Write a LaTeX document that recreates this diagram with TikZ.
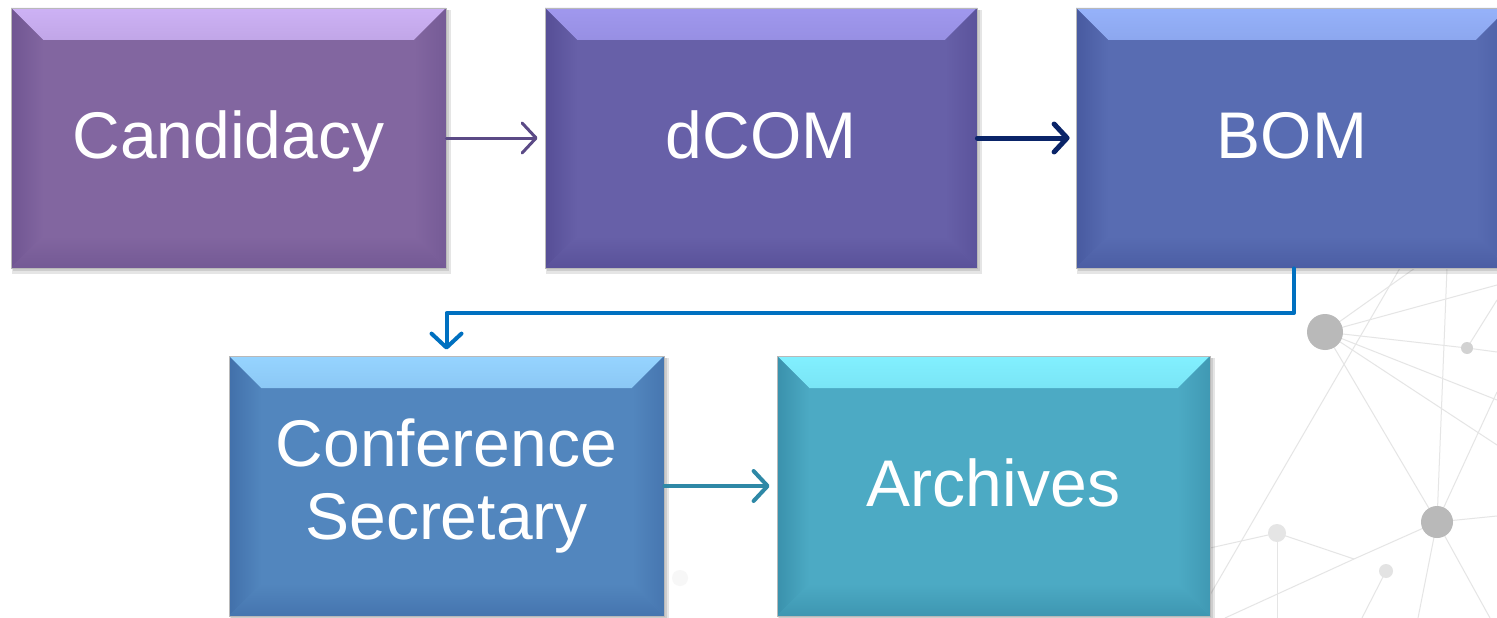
\documentclass[tikz,border=0pt]{standalone}
\usepackage{fontspec}
\setmainfont{Liberation Sans}
\usetikzlibrary{arrows.meta,backgrounds}
\definecolor{candC}{RGB}{130,102,160}
\definecolor{candL}{RGB}{205,178,245}
\definecolor{candD}{RGB}{112,86,146}
\definecolor{dcomC}{RGB}{103,96,168}
\definecolor{dcomL}{RGB}{160,152,238}
\definecolor{dcomD}{RGB}{86,78,150}
\definecolor{bomC}{RGB}{88,108,178}
\definecolor{bomL}{RGB}{150,178,250}
\definecolor{bomD}{RGB}{72,90,160}
\definecolor{confC}{RGB}{82,134,190}
\definecolor{confL}{RGB}{150,212,255}
\definecolor{confD}{RGB}{66,112,170}
\definecolor{archC}{RGB}{76,170,196}
\definecolor{archL}{RGB}{130,240,255}
\definecolor{archD}{RGB}{58,145,172}
\definecolor{arrA}{RGB}{91,74,134}
\definecolor{arrB}{RGB}{10,36,104}
\definecolor{arrC}{RGB}{0,112,192}
\definecolor{arrD}{RGB}{46,136,166}
\tikzset{
  bevelbox/.style n args={3}{
    draw=gray!55, line width=0.8pt, fill=#1,
    minimum width=435pt, minimum height=260pt, inner sep=0pt,
    text=white, font=\fontsize{66}{73}\selectfont, align=center,
    path picture={
      \shade[top color=#2, bottom color=#1, middle color=#2!35!#1]
        (path picture bounding box.north west) -- (path picture bounding box.north east)
        -- ([shift={(-32pt,-32pt)}]path picture bounding box.north east)
        -- ([shift={(32pt,-32pt)}]path picture bounding box.north west) -- cycle;
      \shade[left color=#3, right color=#1]
        (path picture bounding box.north west) -- ([shift={(32pt,-32pt)}]path picture bounding box.north west)
        -- ([shift={(32pt,32pt)}]path picture bounding box.south west)
        -- (path picture bounding box.south west) -- cycle;
      \shade[right color=#3!70!#1, left color=#1]
        (path picture bounding box.north east) -- ([shift={(-32pt,-32pt)}]path picture bounding box.north east)
        -- ([shift={(-32pt,32pt)}]path picture bounding box.south east)
        -- (path picture bounding box.south east) -- cycle;
      \shade[bottom color=#3!80!#1, top color=#1]
        (path picture bounding box.south west) -- ([shift={(32pt,32pt)}]path picture bounding box.south west)
        -- ([shift={(-32pt,32pt)}]path picture bounding box.south east)
        -- (path picture bounding box.south east) -- cycle;
    }
  },
  onetext/.style={text height=47pt, text depth=7pt},
  conn/.style={line cap=round, line join=round},
  netline/.style={draw=gray!20, line width=1pt},
  shadowbox/.style={fill=black, opacity=0.10}
}
\begin{document}
\begin{tikzpicture}[x=1pt,y=-1pt]
\useasboundingbox (0,0) rectangle (1497,618);

\node[bevelbox={candC}{candL}{candD}, onetext] (cand) at (228.5,138) {Candidacy};
\node[bevelbox={dcomC}{dcomL}{dcomD}, onetext, minimum width=432pt] (dcom) at (761,138) {dCOM};
\node[bevelbox={bomC}{bomL}{bomD}, onetext, minimum width=432pt] (bom) at (1292,138) {BOM};
\node[bevelbox={confC}{confL}{confD}] (conf) at (446.5,486) {Conference\\Secretary};
\node[bevelbox={archC}{archL}{archD}, onetext, minimum width=433pt] (arch) at (993.5,486) {Archives};

\begin{scope}[on background layer]
  \fill[white] (0,0) rectangle (1497,618);
  % faint network
  \coordinate (nA) at (1325,332);
  \coordinate (nB) at (1467,348);
  \coordinate (nC) at (1437,522);
  \coordinate (nD) at (1277,533);
  \coordinate (nE) at (1386,571);
  \coordinate (nF) at (1354,559);
  \path[netline] (nA) -- (1497,285);
  \path[netline] (nA) -- (nB) -- (1497,352);
  \path[netline] (nA) -- (1497,400);
  \path[netline] (nA) -- (1497,445);
  \path[netline] (nA) -- (nC);
  \path[netline] (nA) -- (1415,268);
  \path[netline] (1400,268) -- (1210,595);
  \path[netline] (nC) -- (1447,268);
  \path[netline] (nC) -- (1497,392);
  \path[netline] (nC) -- (1497,516);
  \path[netline] (nC) -- (nF) -- (1225,618);
  \path[netline] (nC) -- (1418,618);
  \path[netline] (nC) -- (1490,618);
  \path[netline] (nD) -- (nF);
  \path[netline] (nD) -- (1210,548);
  \path[netline] (nD) -- (1277,618);
  \path[netline] (nE) -- (1362,618);
  \path[netline] (nB) -- (1497,300);
  \fill[gray!55] (nA) circle (18);
  \fill[gray!35] (nB) circle (6);
  \fill[gray!55] (nC) circle (16);
  \fill[gray!20] (nD) circle (9);
  \fill[gray!22] (nE) circle (7);
  \fill[gray!6] (680,578) circle (8);
  % shadows
  \foreach \n in {cand,dcom,bom,conf,arch}{
    \fill[shadowbox] ([shift={(1pt,-2pt)}]\n.north west) rectangle ([shift={(5pt,-6pt)}]\n.south east);
    \fill[shadowbox] ([shift={(2pt,-2pt)}]\n.north west) rectangle ([shift={(3pt,-3pt)}]\n.south east);
  }
\end{scope}

\draw[conn, draw=arrA, line width=3pt, shorten >=7pt,
  -{Straight Barb[length=14pt,width=30pt,line cap=round,line join=round]}] (cand.east) -- (dcom.west);
\draw[conn, draw=arrB, line width=5pt, shorten >=6pt,
  -{Straight Barb[length=13pt,width=28pt,line cap=round,line join=round]}] (dcom.east) -- (bom.west);
\coordinate (turn) at (1294,313);
\draw[conn, draw=arrC, line width=4pt, shorten >=6pt,
  -{Straight Barb[length=14pt,width=30pt,line cap=round,line join=round]}] (turn |- bom.south) -- (turn) -| (conf.north);
\draw[conn, draw=arrD, line width=4pt, shorten >=7pt,
  -{Straight Barb[length=14pt,width=30pt,line cap=round,line join=round]}] (conf.east) -- (arch.west);
\end{tikzpicture}
\end{document}
